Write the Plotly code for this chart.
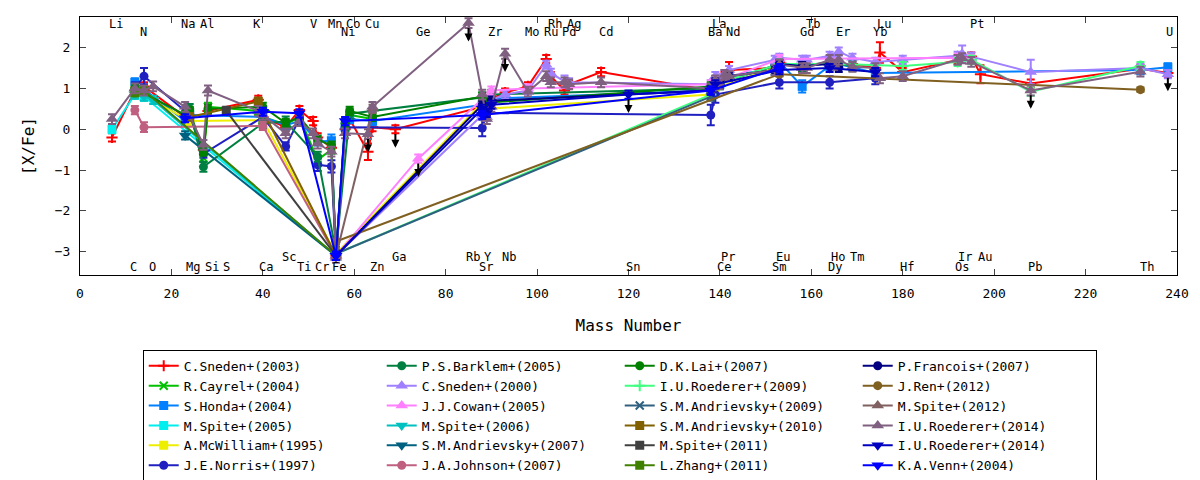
import plotly.graph_objects as go

# ---------------- data (mass number, [X/Fe], error) ----------------
sneden03_x = [7,12,14,23,24,27,28,39,40,45,48,51,52,55,56,58,59,63,64,69,88,89,90,93,98,102,103,106,107,114,138,139,140,141,142,152,153,158,159,164,165,166,169,174,175,180,192,193,195,197,208,232,238]
sneden03_y = [-0.2,0.95,1.05,0.3,0.35,-0.5,0.45,0.72,0.3,0.05,0.47,0.2,-0.2,-0.45,-3.1,0.0,0.25,-0.55,0.05,0.0,0.55,0.45,0.75,0.9,1.05,1.72,1.3,0.95,1.1,1.4,0.95,1.2,1.15,1.3,1.45,1.5,1.65,1.5,1.6,1.6,1.65,1.6,1.6,1.5,1.88,1.4,1.7,1.75,1.78,1.35,1.12,1.48,1.38]
sneden03_e = [0.1,0.1,0.1,0.1,0.1,0.1,0.1,0.1,0.1,0.1,0.1,0.1,0.1,0.1,0.05,0.1,0.1,0.2,0.1,0.1,0.1,0.1,0.1,0.1,0.1,0.1,0.1,0.1,0.1,0.1,0.1,0.1,0.1,0.1,0.2,0.1,0.1,0.1,0.1,0.1,0.1,0.1,0.1,0.1,0.25,0.1,0.1,0.1,0.1,0.22,0.1,0.1,0.1]

cayrel04_x = [23,24,27,28,39,40,45,48,52,55,56,58,59,64]
cayrel04_y = [0.3,0.4,-0.7,0.55,0.45,0.3,0.12,0.3,-0.75,-0.5,-3.05,0.1,0.35,0.25]
cayrel04_e = 0.1

honda04_x = [12,23,24,40,45,48,52,55,56,58,59,64,88,89,90,138,139,140,142,152,153,158,164,166,174,232,238]
honda04_y = [1.15,0.2,0.35,0.3,0.1,0.2,-0.3,-0.28,-3.1,0.05,0.25,0.2,0.6,0.5,0.75,0.95,1.15,1.1,1.3,1.5,1.65,1.05,1.55,1.6,1.38,1.45,1.52]
honda04_e = [0.1,0.1,0.1,0.1,0.1,0.1,0.1,0.15,0.1,0.1,0.1,0.1,0.1,0.1,0.1,0.1,0.1,0.1,0.1,0.1,0.1,0.15,0.1,0.1,0.1,0.1,0.1]

spite05_x = [7,12,14,56]
spite05_y = [0.0,0.85,0.8,-3.1]
spite05_e = 0.1

mcwilliam95_x = [12,24,40,56,88,89,138,139,153]
mcwilliam95_y = [0.95,0.2,0.22,-3.05,0.65,0.5,0.85,1.0,1.55]
mcwilliam95_e = 0.1

norris97_x = [12,14,24,27,40,45,48,52,55,56,58,88,89,138,139,153,164,174]
norris97_y = [1.0,1.3,0.35,-0.6,0.3,-0.42,0.25,-0.87,-0.91,-3.1,0.05,0.03,0.4,0.35,0.85,1.15,1.15,1.25]
norris97_e = [0.15,0.2,0.1,0.1,0.1,0.1,0.1,0.15,0.15,0.1,0.1,0.2,0.15,0.25,0.2,0.15,0.15,0.15]

barklem05_x = [24,27,40,45,52,56,59,88,89,90,138,139,140,142,152,153,158,164,166,169]
barklem05_y = [0.5,-0.92,0.15,0.19,-0.67,-3.0,0.38,0.78,0.6,0.85,1.0,1.15,1.1,1.3,1.45,1.6,1.55,1.65,1.6,1.55]
barklem05_e = 0.12

sneden00_x = [56,88,89,90,93,98,102,103,106,107,138,139,140,141,142,152,153,158,159,164,165,166,169,174,180,192,193,195,208,232,238]
sneden00_y = [-3.1,0.35,0.3,0.72,0.85,0.95,1.58,1.38,1.17,1.15,1.1,1.3,1.25,1.35,1.45,1.7,1.75,1.7,1.7,1.8,1.75,1.9,1.75,1.65,1.7,1.8,1.85,1.78,1.4,1.5,1.35]
sneden00_e = [0.1,0.1,0.1,0.1,0.1,0.1,0.1,0.1,0.15,0.1,0.1,0.1,0.1,0.1,0.1,0.1,0.1,0.1,0.1,0.1,0.1,0.1,0.1,0.1,0.1,0.1,0.2,0.1,0.3,0.1,0.1]

cowan05_x = [56,74,90,98,138,153,192,195]
cowan05_y = [-3.1,-0.72,0.95,1.0,1.1,1.72,1.75,1.72]
cowan05_e = 0.1

spite06_x = [12,14,16,56]
spite06_y = [0.85,0.8,0.72,-3.1]
spite06_e = 0.1

andrievsky07_x = [23,56]
andrievsky07_y = [-0.15,-3.1]
andrievsky07_e = 0.1

johnson07_x = [12,14,40,56]
johnson07_y = [0.47,0.05,0.08,-3.1]
johnson07_e = [0.1,0.12,0.1,0.1]

lai07_x = [12,23,24,27,28,40,45,48,52,55,56,58,59,64,88,89,138,153]
lai07_y = [1.0,0.35,0.45,-0.55,0.5,0.55,0.15,0.3,-0.25,-0.4,-3.05,0.15,0.45,0.3,0.8,0.65,1.05,1.6]
lai07_e = 0.1

roederer09_x = [56,138,139,153,166,180,192,195,208,232]
roederer09_y = [-3.05,0.85,1.1,1.6,1.6,1.55,1.65,1.7,0.92,1.55]
roederer09_e = 0.1

andrievsky09_x = [56,138]
andrievsky09_y = [-3.05,0.8]
andrievsky09_e = 0.1

andrievsky10_x = [24,39,56]
andrievsky10_y = [0.3,0.68,-3.1]
andrievsky10_e = 0.1

spite11_x = [32,56]
spite11_y = [0.45,-3.1]
spite11_e = 0.1

zhang11_x = [12,14,56]
zhang11_y = [0.9,0.95,-3.1]
zhang11_e = 0.1

francois07_x = [56,88,89,90,138,139,140,142,152,153,158,164,166]
francois07_y = [-3.1,0.6,0.45,0.7,0.95,1.15,1.1,1.3,1.45,1.6,1.55,1.6,1.5]
francois07_e = 0.1

ren12_x = [56,153,232]
ren12_y = [-2.75,1.35,0.97]
ren12_e = 0.05

spite12_x = [56,64]
spite12_y = [-3.1,0.5]
spite12_e = 0.1

roederer14a_x = [7,12,14,16,23,27,28,39,40,45,48,51,52,55,56,58,63,64,85,88,89,90,93,98,102,103,106,107,114,138,139,140,141,142,152,153,158,159,164,165,166,169,174,175,180,192,193,195,208,232]
roederer14a_y = [0.25,1.0,0.95,1.05,0.55,-0.38,0.95,0.45,0.35,-0.1,0.2,-0.1,-0.35,-0.55,-3.15,-0.1,-0.12,0.55,2.6,0.85,0.25,0.55,1.85,0.92,1.3,1.15,1.15,1.1,1.15,1.0,1.2,1.1,1.33,1.3,1.45,1.58,1.5,1.5,1.7,1.58,1.7,1.53,1.5,1.25,1.3,1.7,1.74,1.65,0.95,1.41]
roederer14a_e = 0.12

roederer14b_x = [56,88,89,90,120,138,139,153,164,174]
roederer14b_y = [-3.1,0.5,0.4,0.6,0.85,0.95,1.1,1.45,1.5,1.4]
roederer14b_e = 0.1

venn04_x = [23,40,48,56,58,88,138,153]
venn04_y = [0.27,0.43,0.39,-3.1,0.2,0.35,0.95,1.5]
venn04_e = 0.1

# upper limits (drawn as black downward arrows)
ul_x = [63, 69, 74, 85, 93, 120, 208, 238]
ul_y = [-0.12, 0.0, -0.72, 2.6, 1.85, 0.85, 0.95, 1.38]

# element labels
top1_names = ["Li","Na","Al","K","V","Mn","Co","Cu","Rh","Ag","La","Tb","Lu","Pt"]
top1_x = [7.9,23.7,27.7,38.7,51,55.8,59.8,63.8,103.9,108,139.9,160.3,175.9,196.2]
top2_names = ["N","Ni","Ge","Zr","Mo","Ru","Pd","Cd","Ba","Nd","Gd","Er","Yb","U"]
top2_x = [13.9,58.6,75,90.8,98.8,103,106.9,115,139,142.9,159,167,175,238.3]
bot1_names = ["C","O","Mg","Si","S","Ca","Ti","Cr","Fe","Zn","Sr","Sn","Ce","Sm","Dy","Hf","Os","Pb","Th"]
bot1_x = [11.8,15.9,24.7,28.8,32,40.8,49,52.9,56.7,64.9,88.8,120.9,141,153,165.2,180.9,193,209,233.4]
bot2_names = ["Sc","Ga","Rb","Y","Nb","Pr","Eu","Ho","Tm","Ir","Au"]
bot2_x = [45.8,69.8,85.9,89.2,93.9,141.8,153.9,165.9,170,193.6,198]

# ---------------- styling table built from the arrays ----------------
FONT = "DejaVu Sans Mono"
series = [
    ("C.Sneden+(2003)", sneden03_x, sneden03_y, sneden03_e, "#ff0000", "cross-thin"),
    ("R.Cayrel+(2004)", cayrel04_x, cayrel04_y, cayrel04_e, "#00c000", "x-thin"),
    ("S.Honda+(2004)", honda04_x, honda04_y, honda04_e, "#0080ff", "square"),
    ("M.Spite+(2005)", spite05_x, spite05_y, spite05_e, "#00eeee", "square"),
    ("A.McWilliam+(1995)", mcwilliam95_x, mcwilliam95_y, mcwilliam95_e, "#eeee00", "square"),
    ("J.E.Norris+(1997)", norris97_x, norris97_y, norris97_e, "#2020c0", "circle"),
    ("P.S.Barklem+(2005)", barklem05_x, barklem05_y, barklem05_e, "#008040", "circle"),
    ("C.Sneden+(2000)", sneden00_x, sneden00_y, sneden00_e, "#a080ff", "triangle-up"),
    ("J.J.Cowan+(2005)", cowan05_x, cowan05_y, cowan05_e, "#ff80ff", "triangle-up"),
    ("M.Spite+(2006)", spite06_x, spite06_y, spite06_e, "#00c0c0", "triangle-down"),
    ("S.M.Andrievsky+(2007)", andrievsky07_x, andrievsky07_y, andrievsky07_e, "#006080", "triangle-down"),
    ("J.A.Johnson+(2007)", johnson07_x, johnson07_y, johnson07_e, "#c06080", "circle"),
    ("D.K.Lai+(2007)", lai07_x, lai07_y, lai07_e, "#008000", "circle"),
    ("I.U.Roederer+(2009)", roederer09_x, roederer09_y, roederer09_e, "#40ff80", "cross-thin"),
    ("S.M.Andrievsky+(2009)", andrievsky09_x, andrievsky09_y, andrievsky09_e, "#306080", "x-thin"),
    ("S.M.Andrievsky+(2010)", andrievsky10_x, andrievsky10_y, andrievsky10_e, "#806000", "square"),
    ("M.Spite+(2011)", spite11_x, spite11_y, spite11_e, "#404040", "square"),
    ("L.Zhang+(2011)", zhang11_x, zhang11_y, zhang11_e, "#408000", "square"),
    ("P.Francois+(2007)", francois07_x, francois07_y, francois07_e, "#000080", "circle"),
    ("J.Ren+(2012)", ren12_x, ren12_y, ren12_e, "#806020", "circle"),
    ("M.Spite+(2012)", spite12_x, spite12_y, spite12_e, "#806060", "triangle-up"),
    ("I.U.Roederer+(2014)", roederer14a_x, roederer14a_y, roederer14a_e, "#806080", "triangle-up"),
    ("I.U.Roederer+(2014)", roederer14b_x, roederer14b_y, roederer14b_e, "#0000c0", "triangle-down"),
    ("K.A.Venn+(2004)", venn04_x, venn04_y, venn04_e, "#0000ff", "triangle-down"),
]

fig = go.Figure()
NROWS = 6
NCOLS = 4
for i, (name, xs, ys, es, col, sym) in enumerate(series):
    errs = es if isinstance(es, list) else [es] * len(xs)
    thin = sym.endswith("-thin")
    big = sym.startswith("triangle")
    r, c = i % NROWS, i // NROWS
    fig.add_trace(go.Scatter(
        x=xs, y=ys, name=name, mode="lines+markers",
        line=dict(color=col, width=2),
        marker=dict(symbol=sym, size=8 if thin else (11 if big else 9), color=col,
                    line=dict(color=col, width=2 if thin else 0)),
        error_y=dict(type="data", array=errs, visible=True, color=col,
                     thickness=2, width=4),
        legendrank=r * NCOLS + c + 1,
    ))

annotations = []
for ux, uy in zip(ul_x, ul_y):
    annotations.append(dict(x=ux, y=uy - 0.45, ax=ux, ay=uy - 0.08,
                            xref="x", yref="y", axref="x", ayref="y",
                            text="", showarrow=True, arrowhead=2, arrowsize=0.8,
                            arrowwidth=2, arrowcolor="black"))

label_font = dict(family=FONT, size=12, color="black")
for names, xs, yl in [(top1_names, top1_x, 2.58), (top2_names, top2_x, 2.39),
                      (bot1_names, bot1_x, -3.37), (bot2_names, bot2_x, -3.12)]:
    for n, lx in zip(names, xs):
        annotations.append(dict(x=lx, y=yl, xref="x", yref="y", text=n,
                                showarrow=False, font=label_font))

# the page adds an 8px body margin, so the figure is sized 1192x472
fig.update_layout(
    width=1192, height=472,
    margin=dict(l=72, r=23, t=9, b=205, autoexpand=False),
    paper_bgcolor="white", plot_bgcolor="white",
    font=dict(family=FONT, size=13, color="black"),
    showlegend=True,
    legend=dict(orientation="h", x=0.492, xanchor="center", y=-0.29, yanchor="top",
                bordercolor="black", borderwidth=1, bgcolor="white",
                entrywidth=193, font=dict(family=FONT, size=13), tracegroupgap=0),
    annotations=annotations,
    xaxis=dict(range=[0, 240], tick0=0, dtick=20, ticks="inside", ticklen=6,
               showline=True, linecolor="black", linewidth=1, mirror="ticks",
               showgrid=False, zeroline=False, ticklabelstandoff=6, automargin=False,
               title=dict(text="Mass Number", standoff=20)),
    yaxis=dict(range=[-3.57, 2.75], tick0=0, dtick=1, ticks="inside", ticklen=6,
               showline=True, linecolor="black", linewidth=1, mirror="ticks",
               showgrid=False, zeroline=False, ticklabelstandoff=6, automargin=False,
               title=dict(text="[X/Fe]", standoff=16)),
)

fig.write_html("out.html")
